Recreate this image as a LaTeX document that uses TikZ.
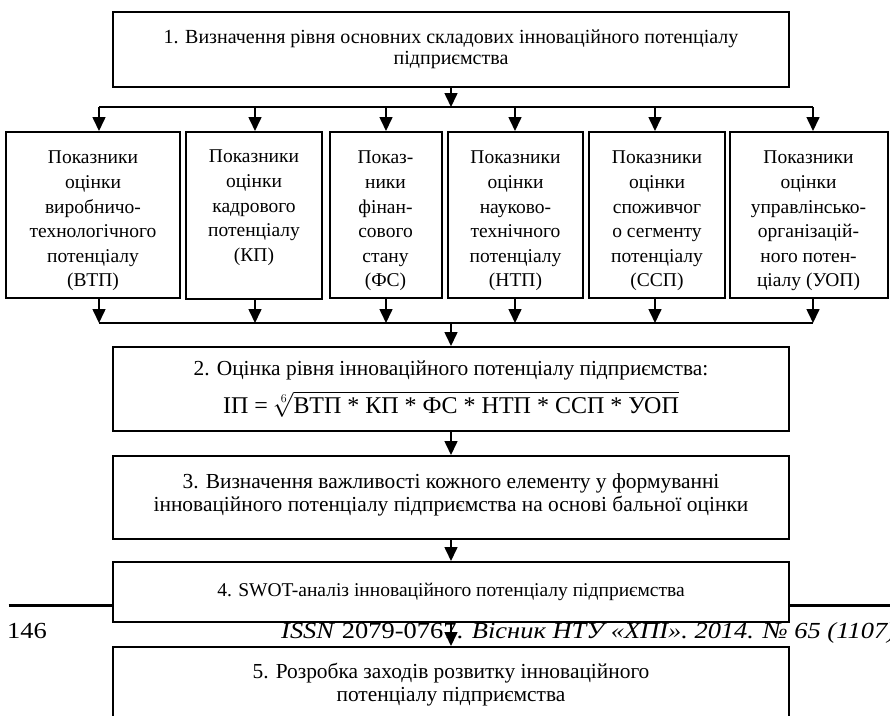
\documentclass[tikz,border=0pt]{standalone}
\usepackage{fontspec}
\setmainfont{Liberation Serif}
\newfontfamily\footfont[FakeStretch=1.15]{Liberation Serif}
\usetikzlibrary{arrows.meta}
\newcommand{\topgap}{\rule{0pt}{25pt}}
\tikzset{
  box/.style={draw, line width=2pt, fill=white, align=center, inner sep=0pt,
    font=\fontsize{19.5}{24.6}\selectfont},
  bigbox/.style={box, minimum width=676pt, font=\fontsize{21.4}{23}\selectfont},
  arr/.style={line width=1.6pt, -{Triangle[width=13pt,length=14pt]}},
  bus/.style={line width=1.8pt},
}
\begin{document}
\begin{tikzpicture}[x=1pt,y=-1pt]
\clip (0,0) rectangle (890,715);
\fill[white] (0,0) rectangle (890,715);
% footer of the page
\draw[line width=3pt] (8.5,605) -- (890,605);
\node[anchor=base west, inner sep=0pt, font=\footfont\fontsize{23}{26}\selectfont] (pg) at (7,638) {146};
\node[anchor=base west, inner sep=0pt, font=\footfont\fontsize{23}{26}\selectfont] (issn) at (281,638)
  {\textit{ISSN} 2079-0767. \textit{Вісник НТУ «ХПІ». 2014. № 65 (1107)}};
% boxes
\node[box, minimum width=676pt, minimum height=75pt, font=\fontsize{20}{24}\selectfont] (n1) at (451,49.5)
  {1. Визначення рівня основних складових інноваційного потенціалу\\[-3pt]підприємства};
\node[box, minimum width=174pt, minimum height=166pt] (b1) at (93,215)
  {\topgap Показники\\оцінки\\виробничо-\\технологічного\\потенціалу\\(ВТП)};
\node[box, minimum width=136pt, minimum height=167pt, anchor=north] (b2) at (254,131)
  {\topgap Показники\\оцінки\\кадрового\\потенціалу\\(КП)\\ \strut};
\node[box, minimum width=112pt, minimum height=166pt] (b3) at (385.5,215)
  {\topgap Показ-\\ники\\фінан-\\сового\\стану\\(ФС)};
\node[box, minimum width=135pt, minimum height=166pt] (b4) at (515.5,215)
  {\topgap Показники\\оцінки\\науково-\\технічного\\потенціалу\\(НТП)};
\node[box, minimum width=136pt, minimum height=166pt] (b5) at (657,215)
  {\topgap Показники\\оцінки\\споживчог\\о сегменту\\потенціалу\\(ССП)};
\node[box, minimum width=158pt, minimum height=166pt] (b6) at (808.5,215)
  {\topgap Показники\\оцінки\\управлінсько-\\організацій-\\ного потен-\\ціалу (УОП)};
\node[bigbox, minimum height=84pt] (n2) at (451,389)
  {2. Оцінка рівня інноваційного потенціалу підприємства:\\[10pt]
   {\fontsize{24}{26}\selectfont ІП = $\sqrt[6]{\mbox{ВТП * КП * ФС * НТП * ССП * УОП}}$}};
\node[bigbox, minimum height=83pt] (n3) at (451,497.5)
  {3. Визначення важливості кожного елементу у формуванні\\інноваційного потенціалу підприємства на основі бальної оцінки\rule[-10pt]{0pt}{10pt}};
\node[box, minimum width=676pt, minimum height=60pt] (n4) at (451,592)
  {4. SWOT-аналіз інноваційного потенціалу підприємства};
\node[bigbox, minimum height=100pt, anchor=north] (n5) at (451,646)
  {5. Розробка заходів розвитку інноваційного\\потенціалу підприємства\rule[-30pt]{0pt}{30pt}};
% buses
\coordinate (u1) at (99,107);  \coordinate (u6) at (813,107);
\coordinate (u2) at (255,107); \coordinate (u3) at (386,107);
\coordinate (u4) at (515,107); \coordinate (u5) at (655,107);
\coordinate (um) at (451,107);
\coordinate (l1) at (99,323);  \coordinate (l6) at (813,323);
\coordinate (l2) at (255,323); \coordinate (l3) at (386,323);
\coordinate (l4) at (515,323); \coordinate (l5) at (655,323);
\coordinate (lm) at (451,323);
\draw[bus] (u1) -- (u6);
\draw[bus] (l1) -- (l6);
\draw[arr] (n1.south) -- (um);
\foreach \i in {1,...,6} {
  \draw[arr] (u\i) -- (u\i |- b\i.north);
  \draw[arr] (l\i |- b\i.south) -- (l\i);
}
\draw[arr] (lm) -- (n2.north);
\draw[arr] (n2.south) -- (n3.north);
\draw[arr] (n3.south) -- (n4.north);
\draw[arr] (n4.south) -- (n5.north);
\end{tikzpicture}
\end{document}
